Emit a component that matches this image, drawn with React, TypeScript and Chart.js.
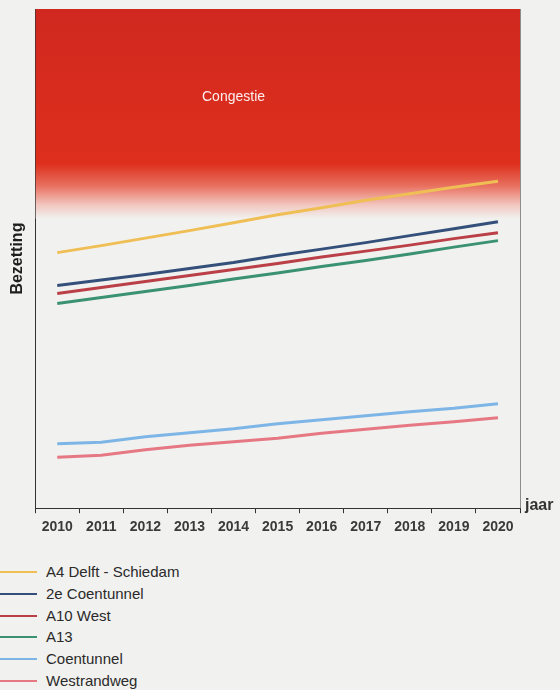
import React, { useEffect, useRef } from "react";
import { Chart, registerables } from "chart.js";

Chart.register(...registerables);

const years = ["2010", "2011", "2012", "2013", "2014", "2015", "2016", "2017", "2018", "2019", "2020"];
const seriesNames = ["A4 Delft - Schiedam", "2e Coentunnel", "A10 West", "A13", "Coentunnel", "Westrandweg"];
const seriesColors = ["#efbf55", "#34507a", "#bb3f47", "#3a9272", "#7db6e6", "#e67884"];

const a4DelftSchiedam = [51.2, 52.6, 54.1, 55.6, 57.2, 58.8, 60.2, 61.7, 63.0, 64.3, 65.5];
const tweedeCoentunnel = [44.6, 45.7, 46.8, 48.0, 49.2, 50.6, 51.9, 53.2, 54.6, 56.0, 57.4];
const a10West = [43.0, 44.2, 45.4, 46.6, 47.8, 49.0, 50.3, 51.5, 52.7, 54.0, 55.2];
const a13 = [41.0, 42.2, 43.4, 44.6, 45.9, 47.1, 48.4, 49.6, 50.9, 52.3, 53.6];
const coentunnel = [12.9, 13.2, 14.3, 15.1, 15.9, 16.9, 17.7, 18.5, 19.3, 20.0, 20.9];
const westrandweg = [10.2, 10.6, 11.7, 12.6, 13.3, 14.0, 15.0, 15.8, 16.6, 17.3, 18.1];
const seriesValues = [a4DelftSchiedam, tweedeCoentunnel, a10West, a13, coentunnel, westrandweg];

const yMin = 0;
const yMax = 100;
const congestionSolidFrom = 69;
const congestionClearAt = 58;
const congestionLabel = "Congestie";
const congestionLabelYear = "2014";
const congestionLabelValue = 82.3;
const yTitle = "Bezetting";
const xTitle = "jaar";

const PAGE_BG = "#f1f1ef";
const FONT = "'Liberation Sans', Arial, sans-serif";

const congestionPlugin = {
  id: "congestion",
  beforeDatasetsDraw(chart: any) {
    const { ctx, chartArea, scales } = chart;
    const y = scales.y;
    const x = scales.x;
    const top = y.getPixelForValue(yMax);
    const solid = y.getPixelForValue(congestionSolidFrom);
    const clear = y.getPixelForValue(congestionClearAt);
    const g = ctx.createLinearGradient(0, top, 0, clear);
    const f = (solid - top) / (clear - top);
    g.addColorStop(0, "#d0281f");
    g.addColorStop(f, "#de2f1d");
    g.addColorStop(f + (1 - f) * 0.4, "#e8705f");
    g.addColorStop(f + (1 - f) * 0.75, "#f2c6bf");
    g.addColorStop(1, PAGE_BG);
    ctx.save();
    ctx.fillStyle = g;
    ctx.fillRect(chartArea.left + 0.5, top, chartArea.right - chartArea.left - 0.5, clear - top);
    ctx.fillStyle = "rgba(255,255,255,0.92)";
    ctx.font = `14px ${FONT}`;
    ctx.textAlign = "center";
    ctx.textBaseline = "middle";
    ctx.fillText(
      congestionLabel,
      x.getPixelForValue(years.indexOf(congestionLabelYear)),
      y.getPixelForValue(congestionLabelValue)
    );
    ctx.strokeStyle = "#8c8c8c";
    ctx.lineWidth = 1;
    ctx.beginPath();
    ctx.moveTo(Math.round(chartArea.right) + 0.5, chartArea.top);
    ctx.lineTo(Math.round(chartArea.right) + 0.5, chartArea.bottom);
    ctx.stroke();
    ctx.restore();
  },
  afterDraw(chart: any) {
    const { ctx, chartArea } = chart;
    ctx.save();
    ctx.fillStyle = "#333333";
    ctx.font = `bold 16px ${FONT}`;
    ctx.textAlign = "left";
    ctx.textBaseline = "middle";
    ctx.fillText(xTitle, chartArea.right + 5, chartArea.bottom - 3);
    ctx.restore();
  },
};

export default function App() {
  const canvasRef = useRef<HTMLCanvasElement | null>(null);

  useEffect(() => {
    if (!canvasRef.current) return;
    const chart = new Chart(canvasRef.current, {
      type: "line",
      data: {
        labels: years,
        datasets: seriesNames.map((name, i) => ({
          label: name,
          data: seriesValues[i],
          borderColor: seriesColors[i],
          backgroundColor: seriesColors[i],
          borderWidth: 3,
          pointRadius: 0,
          tension: 0,
          fill: false,
        })),
      },
      options: {
        animation: false,
        responsive: true,
        maintainAspectRatio: false,
        layout: { padding: { top: 9, right: 40, bottom: 5, left: 0 } },
        plugins: {
          legend: { display: false },
          tooltip: { enabled: false },
        },
        scales: {
          x: {
            offset: true,
            grid: {
              offset: true,
              drawOnChartArea: false,
              drawTicks: true,
              tickLength: 5,
              color: "#333333",
            },
            border: { display: true, color: "#333333", width: 1 },
            ticks: {
              color: "#3a3a3a",
              font: { family: FONT, size: 14, weight: "bold" },
              padding: 6,
              maxRotation: 0,
              autoSkip: false,
            },
          },
          y: {
            min: yMin,
            max: yMax,
            grid: { display: false, drawTicks: false },
            border: { display: true, color: "#333333", width: 1 },
            ticks: { display: false },
            title: {
              display: true,
              text: yTitle,
              color: "#1e1e1e",
              font: { family: FONT, size: 16, weight: "bold" },
              padding: { top: 8, bottom: 8 },
            },
          },
        },
      },
      plugins: [congestionPlugin],
    });
    return () => chart.destroy();
  }, []);

  return (
    <div
      style={{
        position: "fixed",
        left: 0,
        top: 0,
        width: 560,
        height: 690,
        background: PAGE_BG,
        overflow: "hidden",
        fontFamily: FONT,
      }}
    >
      <div style={{ position: "absolute", left: 0, top: 0, width: 560, height: 547 }}>
        <canvas ref={canvasRef} />
      </div>
      {seriesNames.map((name, i) => (
        <div
          key={name}
          style={{
            position: "absolute",
            left: 0,
            top: 572 + i * 21.8 - 10,
            height: 20,
            display: "flex",
            alignItems: "center",
          }}
        >
          <span
            style={{
              display: "inline-block",
              width: 37,
              height: 2,
              background: seriesColors[i],
            }}
          />
          <span style={{ marginLeft: 9, fontSize: 15, color: "#2a2a2a", lineHeight: "20px" }}>{name}</span>
        </div>
      ))}
    </div>
  );
}
